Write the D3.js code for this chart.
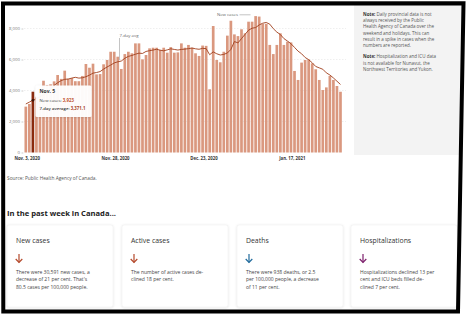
<!DOCTYPE html>
<html><head><meta charset="utf-8">
<script src="https://cdn.jsdelivr.net/npm/d3@7"></script>
<style>
html,body{margin:0;padding:0;background:#fff;}
svg{display:block;font-family:"Open Sans",sans-serif;}
</style>
</head><body>
<svg id="c" width="468" height="321"></svg>
<script>
// ---------- DATA ----------
const dates = d3.timeDay.range(new Date(2020, 10, 3), new Date(2021, 1, 1)); // Nov 3, 2020 – Jan 31, 2021
const newCases = [
  2960, 3130, 3923, 3600, 4100, 4630, 4350, 4400, 4590, 5000, 4750, 5280, 4750, 4800,
  4600, 4600, 4940, 5710, 5470, 5730,
  5040, 5060, 5690, 5970, 6500, 6500, 6180, 5390, 6350, 6500,
  6400, 7040, 7040, 6010, 6290, 6720, 6760, 6760, 6620, 6760,
  6440, 6800, 6440, 6460, 7040, 6760, 6940, 6760, 6400, 6230,
  6900, 6880, 4080, 8160, 5970, 5820, 6500, 7540, 8500, 7620,
  7510, 7950, 7690, 8440, 8440, 8800, 8770, 8300, 8300, 6940,
  6350, 6940, 7690, 6940, 7150, 7100, 5260, 4680, 5800, 5970,
  6000, 5750, 5370, 4680, 4030, 4200, 4940, 4680, 4290, 3920
];
const sevenDayAvg = [
  3130, 3250, 3371.1, 3480, 3600, 3720, 3850, 4100, 4330, 4500, 4640, 4720, 4740, 4800,
  4850, 4800, 4820, 4890, 4990, 5120,
  5160, 5220, 5380, 5520, 5640, 5780, 5850, 5900, 6080, 6200,
  6260, 6340, 6410, 6390, 6520, 6570, 6610, 6660, 6600, 6560,
  6620, 6690, 6650, 6610, 6650, 6670, 6700, 6740, 6690, 6660,
  6720, 6700, 6310, 6490, 6370, 6290, 6330, 6420, 6650, 7160,
  7070, 7350, 7620, 7890, 8020, 8060, 8230, 8340, 8390, 8280,
  7990, 7770, 7610, 7350, 7190, 7020, 6780, 6540, 6370, 6130,
  5990, 5790, 5550, 5460, 5370, 5140, 5000, 4810, 4600, 4390
];
const tickDates = [new Date(2020, 10, 3), new Date(2020, 10, 28), new Date(2020, 11, 23), new Date(2021, 0, 17)];
const tickLabels = ["Nov. 3, 2020", "Nov. 28, 2020", "Dec. 23, 2020", "Jan. 17, 2021"];
const yTicks = [0, 2000, 4000, 6000, 8000];
const highlightIndex = 2;
const tooltipTitle = "Nov. 5";

const notes = [
  ["Note:", [" Daily provincial data is not", "always received by the Public", "Health Agency of Canada over the", "weekend and holidays. This can", "result in a spike in cases when the", "numbers are reported."]],
  ["Note:", [" Hospitalization and ICU data", "is not available for Nunavut, the", "Northwest Territories and Yukon."]]
];
const cardTitles = ["New cases", "Active cases", "Deaths", "Hospitalizations"];
const cardTexts = [
  ["There were 30,591 new cases, a", "decrease of 21 per cent. That's", "80.5 cases per 100,000 people."],
  ["The number of active cases de-", "clined 18 per cent."],
  ["There were 938 deaths, or 2.5", "per 100,000 people, a decrease", "of 11 per cent."],
  ["Hospitalizations declined 13 per", "cent and ICU beds filled de-", "clined 7 per cent."]
];
const cardArrowColors = ["#b4482a", "#b4482a", "#1f6a9c", "#7d1f6c"];

// ---------- DRAW ----------
const svg = d3.select("#c");
const defs = svg.append("defs");
const f = defs.append("filter").attr("id", "sh").attr("x", "-10%").attr("y", "-10%").attr("width", "120%").attr("height", "130%");
f.append("feDropShadow").attr("dx", 0).attr("dy", 0.5).attr("stdDeviation", 1).attr("flood-color", "#000").attr("flood-opacity", 0.13);

// note panel
svg.append("rect").attr("x", 354).attr("y", 4).attr("width", 108).attr("height", 151).attr("fill", "#f3f3f3");
let ny = 15.6;
notes.forEach((n, k) => {
  n[1].forEach((line, i) => {
    const t = svg.append("text").attr("x", 363).attr("y", ny).attr("font-size", 4.5).attr("fill", "#555");
    if (i === 0) t.append("tspan").attr("font-weight", 700).attr("fill", "#333").text(n[0]);
    t.append("tspan").text(line);
    ny += 6.3;
  });
  ny += 5;
});

const x = d3.scaleBand().domain(dates.map(d => +d)).range([24.3, 342]).paddingInner(0.24).paddingOuter(0.05);
const y = d3.scaleLinear().domain([0, 8000]).range([152.5, 28.5]);
const bw = x.bandwidth();

// gridlines
svg.append("g").selectAll("line").data(yTicks.filter(t => t > 0)).join("line")
  .attr("x1", 24).attr("x2", 346).attr("y1", d => y(d)).attr("y2", d => y(d))
  .attr("stroke", "#e4e4e4").attr("stroke-width", 0.6).attr("stroke-dasharray", "1.5,1.5");

// y axis
const ya = svg.append("g").attr("transform", "translate(23.3,0)")
  .call(d3.axisLeft(y).tickValues(yTicks).tickSize(1.8).tickPadding(1.5).tickFormat(d3.format(",")));
ya.select(".domain").remove();
ya.selectAll("line").attr("stroke", "#999").attr("stroke-width", 0.5);
ya.selectAll("text").attr("font-size", 4.3).attr("fill", "#777").attr("font-family", "Open Sans");

// bars
svg.append("g").selectAll("rect").data(newCases).join("rect")
  .attr("x", (d, i) => x(+dates[i])).attr("width", bw)
  .attr("y", d => y(d)).attr("height", d => y(0) - y(d))
  .attr("fill", (d, i) => i === highlightIndex ? "#8a2a0e" : "#da987f");

// 7-day average line
const line = d3.line().x((d, i) => x(+dates[i]) + bw / 2).y(d => y(d));
svg.append("path").datum(sevenDayAvg).attr("d", line).attr("fill", "none")
  .attr("stroke", "#a03e1c").attr("stroke-width", 0.9).attr("stroke-linejoin", "round");

// x axis
const xa = svg.append("g").attr("transform", `translate(0,${y(0)})`)
  .call(d3.axisBottom(x).tickValues(tickDates.map(d => +d)).tickSize(0).tickPadding(4)
    .tickFormat(d => tickLabels[tickDates.findIndex(t => +t === d)]));
xa.select(".domain").remove();
xa.selectAll("text").attr("font-size", 4.3).attr("font-weight", 700).attr("fill", "#333")
  .attr("font-family", "Open Sans").attr("transform", `translate(${bw / 2},0)`);

// annotations
const aIdx = 27;
const ax = 119.5;
svg.append("line").attr("x1", ax).attr("x2", ax).attr("y1", 38).attr("y2", y(sevenDayAvg[aIdx]) - 1)
  .attr("stroke", "#888").attr("stroke-width", 0.5);
svg.append("text").attr("x", ax).attr("y", 36.5).attr("font-size", 4.3).attr("fill", "#666").text("7-day avg");
svg.append("text").attr("x", 238).attr("y", 16.2).attr("text-anchor", "end").attr("font-size", 4.3).attr("fill", "#666").text("New cases");
svg.append("line").attr("x1", 239.5).attr("x2", 250.5).attr("y1", 14.8).attr("y2", 14.8).attr("stroke", "#888").attr("stroke-width", 0.5);

// highlight dot
const hx = x(+dates[highlightIndex]) + bw / 2;
svg.append("circle").attr("cx", hx).attr("cy", y(sevenDayAvg[highlightIndex])).attr("r", 1.3).attr("fill", "#3a1408");

// tooltip
const tg = svg.append("g");
tg.append("rect").attr("x", 35.5).attr("y", 85.5).attr("width", 56).attr("height", 31.5).attr("rx", 1.5)
  .attr("fill", "#fff").attr("fill-opacity", 0.95).attr("filter", "url(#sh)");
tg.append("text").attr("x", 39.5).attr("y", 92.8).attr("font-size", 5).attr("font-weight", 700).attr("fill", "#333").text(tooltipTitle);
const t1 = tg.append("text").attr("x", 39.5).attr("y", 102).attr("font-size", 4.3).attr("fill", "#444");
t1.append("tspan").text("New cases: ");
t1.append("tspan").attr("font-weight", 700).attr("fill", "#c0502c").text(d3.format(",")(newCases[highlightIndex]));
const t2 = tg.append("text").attr("x", 39.5).attr("y", 109.6).attr("font-size", 4.3).attr("fill", "#333");
t2.append("tspan").attr("font-weight", 600).text("7-day average: ");
t2.append("tspan").attr("font-weight", 700).attr("fill", "#a8431f").text(d3.format(",.1f")(sevenDayAvg[highlightIndex]));

// source
svg.append("text").attr("x", 7).attr("y", 180).attr("font-size", 4.8).attr("fill", "#555").text("Source: Public Health Agency of Canada.");

// heading
svg.append("text").attr("x", 7).attr("y", 216).attr("font-size", 7.6).attr("font-weight", 700).attr("fill", "#222").text("In the past week in Canada...");

// cards
const cardX = [7, 122, 237, 351];
cardTitles.forEach((title, i) => {
  const g = svg.append("g").attr("transform", `translate(${cardX[i]},225)`);
  g.append("rect").attr("width", 106).attr("height", 82).attr("rx", 2).attr("fill", "#fff")
    .attr("stroke", "#ececec").attr("stroke-width", 0.5).attr("filter", "url(#sh)");
  g.append("text").attr("x", 9).attr("y", 17.5).attr("font-size", 6.9).attr("fill", "#333").text(title);
  const c = cardArrowColors[i];
  g.append("line").attr("x1", 12).attr("x2", 12).attr("y1", 29).attr("y2", 37.5).attr("stroke", c).attr("stroke-width", 1.2);
  g.append("path").attr("d", "M8.7,34 L12,37.5 L15.3,34").attr("fill", "none").attr("stroke", c).attr("stroke-width", 1.2);
  cardTexts[i].forEach((l, j) => {
    g.append("text").attr("x", 9).attr("y", 49 + j * 7.4).attr("font-size", 5).attr("fill", "#444").text(l);
  });
});

// outer black frame
svg.append("path").attr("d", "M3,3.6 L463.5,3.2 L458,311.5 L3.3,311.5 Z")
  .attr("fill", "none").attr("stroke", "#000").attr("stroke-width", 4).attr("stroke-linejoin", "miter");
</script>
</body></html>
